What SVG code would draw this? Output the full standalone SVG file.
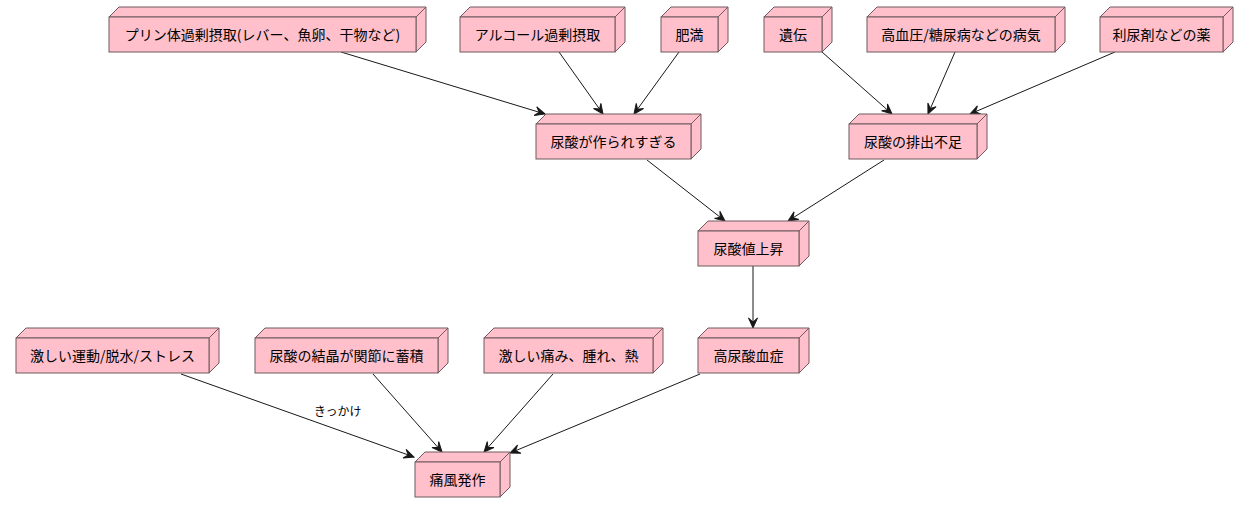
<svg xmlns="http://www.w3.org/2000/svg" width="1253" height="513" viewBox="0 0 1253 513">
<defs>
<style>
.box{fill:#FFC0CB;stroke:#6e5a5e;stroke-width:1}
.lbl{font-family:"Noto Sans CJK JP","Liberation Sans",sans-serif;font-size:14px;fill:#000;text-anchor:middle}
.edge{stroke:#181818;stroke-width:1;fill:none;marker-end:url(#arr)}
.elbl{font-family:"Noto Sans CJK JP","Liberation Sans",sans-serif;font-size:12px;fill:#000}
</style>
<marker id="arr" viewBox="-11 -6 12 12" refX="0" refY="0" markerWidth="12" markerHeight="12" markerUnits="userSpaceOnUse" orient="auto">
<path d="M0,0 L-10,-4.5 L-6,0 L-10,4.5 Z" fill="#181818" stroke="#181818" stroke-width="1" stroke-linejoin="miter"/>
</marker>
</defs>
<rect width="1253" height="513" fill="#fff"/>
<g id="edges">
<line class="edge" x1="341" y1="52" x2="545" y2="114"/>
<line class="edge" x1="559" y1="52" x2="603" y2="114"/>
<line class="edge" x1="679" y1="52" x2="634" y2="114"/>
<line class="edge" x1="822" y1="52" x2="892" y2="114"/>
<line class="edge" x1="955" y1="52" x2="928" y2="114"/>
<line class="edge" x1="1115" y1="52" x2="970" y2="114"/>
<line class="edge" x1="647" y1="160" x2="725" y2="221"/>
<line class="edge" x1="884" y1="160" x2="788" y2="221"/>
<line class="edge" x1="753" y1="266" x2="753" y2="328"/>
<line class="edge" x1="181" y1="374" x2="414" y2="457"/>
<line class="edge" x1="373" y1="374" x2="442" y2="452"/>
<line class="edge" x1="553" y1="374" x2="484" y2="452"/>
<line class="edge" x1="700" y1="374" x2="510" y2="453"/>
<text class="elbl" x="314" y="416">きっかけ</text>
</g>
<g id="n1"><path class="box" d="M109,17 L119,7 L426,7 L416,17 Z M416,17 L426,7 L426,42 L416,52 Z"/><rect class="box" x="109" y="17" width="307" height="35"/><text class="lbl" x="262.5" y="39.5">プリン体過剰摂取(レバー、魚卵、干物など)</text></g>
<g id="n2"><path class="box" d="M460,17 L470,7 L625,7 L615,17 Z M615,17 L625,7 L625,42 L615,52 Z"/><rect class="box" x="460" y="17" width="155" height="35"/><text class="lbl" x="537.5" y="39.5">アルコール過剰摂取</text></g>
<g id="n3"><path class="box" d="M661,17 L671,7 L728,7 L718,17 Z M718,17 L728,7 L728,42 L718,52 Z"/><rect class="box" x="661" y="17" width="57" height="35"/><text class="lbl" x="689.5" y="39.5">肥満</text></g>
<g id="n4"><path class="box" d="M764,17 L774,7 L832,7 L822,17 Z M822,17 L832,7 L832,42 L822,52 Z"/><rect class="box" x="764" y="17" width="58" height="35"/><text class="lbl" x="793" y="39.5">遺伝</text></g>
<g id="n5"><path class="box" d="M867,17 L877,7 L1065,7 L1055,17 Z M1055,17 L1065,7 L1065,42 L1055,52 Z"/><rect class="box" x="867" y="17" width="188" height="35"/><text class="lbl" x="961" y="39.5">高血圧/糖尿病などの病気</text></g>
<g id="n6"><path class="box" d="M1100,17 L1110,7 L1233,7 L1223,17 Z M1223,17 L1233,7 L1233,42 L1223,52 Z"/><rect class="box" x="1100" y="17" width="123" height="35"/><text class="lbl" x="1161.5" y="39.5">利尿剤などの薬</text></g>
<g id="n7"><path class="box" d="M536,124 L546,114 L701,114 L691,124 Z M691,124 L701,114 L701,149 L691,159 Z"/><rect class="box" x="536" y="124" width="155" height="35"/><text class="lbl" x="613.5" y="146.5">尿酸が作られすぎる</text></g>
<g id="n8"><path class="box" d="M849,124 L859,114 L987,114 L977,124 Z M977,124 L987,114 L987,149 L977,159 Z"/><rect class="box" x="849" y="124" width="128" height="35"/><text class="lbl" x="913" y="146.5">尿酸の排出不足</text></g>
<g id="n9"><path class="box" d="M698,231 L708,221 L809,221 L799,231 Z M799,231 L809,221 L809,256 L799,266 Z"/><rect class="box" x="698" y="231" width="101" height="35"/><text class="lbl" x="748.5" y="253.5">尿酸値上昇</text></g>
<g id="n10"><path class="box" d="M16,338 L26,328 L219,328 L209,338 Z M209,338 L219,328 L219,363 L209,373 Z"/><rect class="box" x="16" y="338" width="193" height="35"/><text class="lbl" x="112.5" y="360.5">激しい運動/脱水/ストレス</text></g>
<g id="n11"><path class="box" d="M255,338 L265,328 L448,328 L438,338 Z M438,338 L448,328 L448,363 L438,373 Z"/><rect class="box" x="255" y="338" width="183" height="35"/><text class="lbl" x="346.5" y="360.5">尿酸の結晶が関節に蓄積</text></g>
<g id="n12"><path class="box" d="M484,338 L494,328 L663,328 L653,338 Z M653,338 L663,328 L663,363 L653,373 Z"/><rect class="box" x="484" y="338" width="169" height="35"/><text class="lbl" x="568.5" y="360.5">激しい痛み、腫れ、熱</text></g>
<g id="n13"><path class="box" d="M698,338 L708,328 L809,328 L799,338 Z M799,338 L809,328 L809,363 L799,373 Z"/><rect class="box" x="698" y="338" width="101" height="35"/><text class="lbl" x="748.5" y="360.5">高尿酸血症</text></g>
<g id="n14"><path class="box" d="M415,462 L425,452 L510,452 L500,462 Z M500,462 L510,452 L510,487 L500,497 Z"/><rect class="box" x="415" y="462" width="85" height="35"/><text class="lbl" x="457.5" y="484.5">痛風発作</text></g>
</svg>
